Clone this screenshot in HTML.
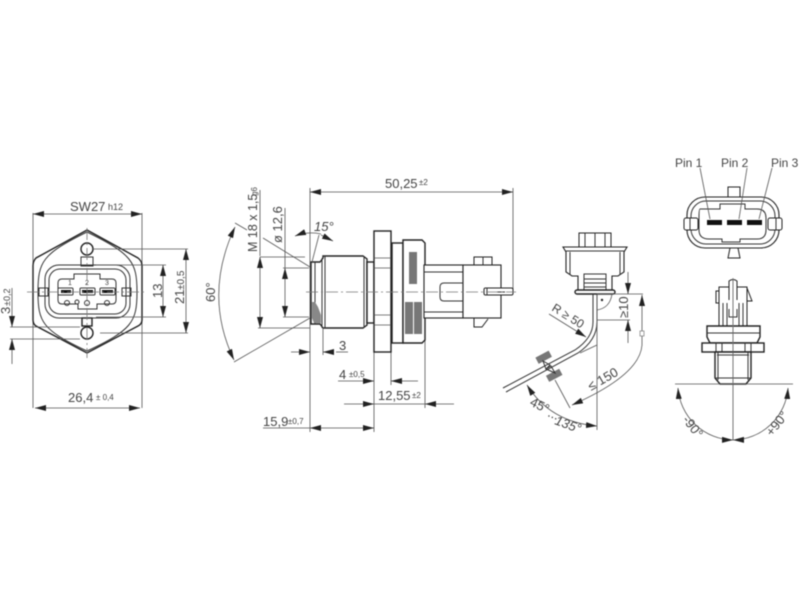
<!DOCTYPE html>
<html><head><meta charset="utf-8"><style>
html,body{margin:0;padding:0;background:#fff}
svg{display:block;filter:blur(.5px)}
text{font-family:"Liberation Sans",sans-serif;fill:#444;font-size:13px}
.s{font-size:8px}
.l{fill:none;stroke:#333;stroke-width:1}
.h{fill:#fff;stroke:#222;stroke-width:1.4}
.t{fill:none;stroke:#555;stroke-width:.8}
.c{fill:none;stroke:#777;stroke-width:.8;stroke-dasharray:12 3 2 3}
</style></head><body>
<svg width="800" height="600" viewBox="0 0 800 600" xmlns="http://www.w3.org/2000/svg">
<defs>
<marker id="a" markerUnits="userSpaceOnUse" markerWidth="11" markerHeight="6" refX="11" refY="3" orient="auto-start-reverse"><path d="M0 0L11 3L0 6z" fill="#222"/></marker>
</defs>
<rect width="800" height="600" fill="#fff"/>

<!-- LEFT VIEW -->
<path class="t" d="M33 213V408M142 213V408"/>
<path class="t" d="M33 214H142" marker-start="url(#a)" marker-end="url(#a)"/>
<path class="t" d="M35 408H140" marker-start="url(#a)" marker-end="url(#a)"/>
<text x="70" y="211">SW27</text><text x="108" y="210" class="s" style="font-size:9px">h12</text>
<text x="68" y="402">26,4</text><text x="96" y="400" class="s">± 0,4</text>
<path class="h" d="M87 230L138 258Q142 261 142 266V320Q142 324 138 326L87 353L36 326Q33 324 33 320V266Q33 261 36 258Z"/>
<path class="l" d="M38 292C38 262 42 254 87 232C132 254 137 262 137 292C137 322 132 330 87 351C42 330 38 322 38 292Z" stroke="#666"/>
<rect class="l" x="45" y="265" width="85" height="53" rx="14"/>
<rect class="l" x="49" y="269" width="77" height="45" rx="11"/>
<path class="l" d="M62 279H74V274H100V279H112Q116 279 116 283V300Q116 304 112 304H97V309H78V304H62Q58 304 58 300V283Q58 279 62 279Z"/>
<circle class="h" cx="87" cy="249" r="6"/><circle class="h" cx="87" cy="333" r="6"/>
<rect class="l" x="81" y="257" width="12" height="9"/><rect class="h" x="82" y="318" width="10" height="8"/>
<rect class="l" x="39" y="288" width="9" height="8"/><rect class="l" x="122" y="288" width="9" height="8"/>
<rect x="58" y="288" width="15" height="7" rx="1" fill="#fff" stroke="#333"/><rect x="80" y="288" width="15" height="7" rx="1" fill="#fff" stroke="#333"/><rect x="100" y="288" width="15" height="7" rx="1" fill="#fff" stroke="#333"/>
<rect x="61" y="290" width="10" height="3" fill="#111"/><rect x="82" y="290" width="11" height="3" fill="#111"/><rect x="102" y="290" width="11" height="3" fill="#111"/>
<circle class="l" cx="67" cy="303" r="2.5"/><circle class="l" cx="77" cy="302" r="2"/><circle class="l" cx="87" cy="303" r="2.5"/><circle class="l" cx="107" cy="303" r="2.5"/>
<path class="c" d="M87 228V358M27 292H147"/>
<text x="68" y="285" class="s" style="font-size:7px">1</text><text x="85" y="285" class="s" style="font-size:7px">2</text><text x="105" y="285" class="s" style="font-size:7px">3</text>
<path class="t" d="M92 249H188M100 333H188M96 265H166M96 317H166M10 327H80M10 339H80"/>
<path class="t" d="M186 249V333" marker-start="url(#a)" marker-end="url(#a)"/>
<path class="t" d="M163 265V317" marker-start="url(#a)" marker-end="url(#a)"/>
<path class="t" d="M12 288V327" marker-end="url(#a)"/><path class="t" d="M12 364V339" marker-end="url(#a)"/>
<text transform="translate(162,298) rotate(-90)">13</text>
<text transform="translate(184,304) rotate(-90)">21</text><text transform="translate(184,290) rotate(-90)" class="s" style="font-size:10px">±0,5</text>
<text transform="translate(10,314) rotate(-90)">3</text><text transform="translate(10,306) rotate(-90)" class="s" style="font-size:9px">±0,2</text>

<!-- MIDDLE VIEW -->
<path class="t" d="M310 188V432M513 188V290M374 352V432M391 352V385M425 340V408"/>
<path class="t" d="M310 192H513" marker-start="url(#a)" marker-end="url(#a)"/>
<text x="385" y="188">50,25</text><text x="419" y="185" class="s">±2</text>
<path class="h" d="M311 262H320L323 258V256H363L367 259V325L363 328H323L320 324H311Z" style="fill:#fff"/>
<path class="l" d="M315 262V324M322 258V328M325 256V328M364 256V328M367 259V325"/>
<path d="M312 302L315 302L318 307L321 315V323H314L312 318Z" fill="#888"/>
<rect class="h" x="367" y="262" width="7" height="61"/>
<rect class="h" x="374" y="231" width="17" height="121"/>
<path class="t" d="M374 258H391M374 268H391M374 315H391M374 325H391"/>
<rect class="h" x="392" y="243" width="11" height="100"/>
<path class="h" d="M403 240H422L425 243V340L422 343H403Z"/>
<rect x="409" y="252" width="8" height="32" fill="#777"/>
<rect x="405" y="302" width="8" height="32" fill="#777"/><rect x="414" y="302" width="8" height="32" fill="#777"/>
<rect class="h" x="424" y="265" width="39" height="53" style="stroke-width:1.1"/>
<path class="l" d="M424 272H463M424 312H463"/>
<path class="h" d="M474 265V257H492V265" style="stroke-width:1"/><path class="l" d="M483 257V265"/>
<path class="h" d="M474 318V327H482L488 319" style="stroke-width:1"/>
<rect class="h" x="463" y="265" width="38" height="53" style="stroke-width:1.1"/>
<path class="l" d="M463 283H444Q440 283 440 287V297Q440 301 444 301H463"/>
<rect class="h" x="484" y="288" width="29" height="7" rx="1.5" style="stroke-width:1"/>
<path class="l" d="M487 288V295M497 292H505"/>
<path class="c" d="M306 292H516" stroke-width=".9"/>
<!-- left dims -->
<path class="t" d="M260 257H305M283 268H309M283 317H309M258 328H310"/>
<path class="t" d="M260 257V328" marker-start="url(#a)" marker-end="url(#a)"/>
<path class="t" d="M285 268V317" marker-start="url(#a)" marker-end="url(#a)"/>
<path class="t" d="M263 238L310 267"/>
<path class="t" d="M260 190V256M285 208V268"/>
<path class="t" d="M235 223L247 230M310 318L234 362"/>
<path class="t" d="M235 227Q203 295 234 360" marker-start="url(#a)" marker-end="url(#a)"/>
<text transform="translate(257,252) rotate(-90)" style="font-size:12.5px">M 18 x 1,5</text>
<text transform="translate(257,196) rotate(-90)" class="s">g6</text>
<text transform="translate(282,243) rotate(-90)">ø 12,6</text>
<text transform="translate(215,302) rotate(-90)" style="font-size:13px">60°</text>
<path class="t" d="M319 235L312 262"/>
<path class="t" d="M295 236Q308 231 321 234" marker-start="url(#a)"/>
<path class="t" d="M333 241L321 235" marker-start="url(#a)"/>
<text x="314" y="231" style="font-style:italic">15°</text>
<path class="t" d="M323 328V355"/>
<path class="t" d="M291 352H310" marker-end="url(#a)"/><path class="t" d="M334 352H323" marker-end="url(#a)"/>
<path class="t" d="M336 352H348"/>
<text x="339" y="350">3</text>
<text x="339" y="379">4</text><text x="349" y="377" class="s">±0,5</text>
<path class="t" d="M338 381H374" marker-end="url(#a)"/><path class="t" d="M418 381H391" marker-end="url(#a)"/>
<path class="t" d="M344 404H374" marker-end="url(#a)"/><path class="t" d="M454 404H425" marker-end="url(#a)"/><path class="t" d="M374 404H425"/>
<text x="378" y="400">12,55</text><text x="412" y="398" class="s">±2</text>
<text x="263" y="426">15,9</text><text x="288" y="424" class="s">±0,7</text>
<path class="t" d="M263 428H310"/>
<path class="t" d="M310 428H374" marker-start="url(#a)" marker-end="url(#a)"/>

<!-- CABLE VIEW -->
<path class="h" d="M579 247V233H611V247" style="stroke-width:1"/><path class="l" d="M585 233V247M595 233V247M605 233V247"/>
<path class="h" d="M563 247H627L624 252V272L618 276H612V290H578V276H572L566 272V252Z" style="stroke-width:1.1"/>
<path class="l" d="M566 251H624M570 252V275M620 252V275"/>
<rect class="l" x="584" y="274" width="22" height="16"/><path class="l" d="M584 279H606M584 283H606M584 287H606"/>
<rect class="h" x="575" y="290" width="40" height="4" rx="2"/>
<path class="l" stroke-width="1.2" d="M593 294V322Q593 338 575 350L503 388"/>
<path class="l" stroke-width="1.2" d="M597 294V322Q597 340 578 353L506 392"/>
<path class="t" d="M597 294V430"/>
<circle cx="602" cy="300" r="1.2" fill="#222"/><path class="t" d="M597 310Q610 308 612 294"/>
<path class="t" d="M597 294H643M597 320H630M597 345L580 353"/>
<path class="t" d="M628 272V294" marker-end="url(#a)"/><path class="t" d="M628 343V320" marker-end="url(#a)"/>
<text transform="translate(628,318) rotate(-90)">≥10</text>
<path class="t" d="M642 295V345Q640 375 572 405" marker-start="url(#a)" marker-end="url(#a)"/>
<rect x="640" y="331" width="4" height="5" fill="#fff" stroke="#777" stroke-width=".7"/>
<path class="t" d="M570 408L555 380"/>
<text transform="translate(591,391) rotate(-30)">≤ 150</text>
<path class="t" d="M549 314L586 337" marker-end="url(#a)"/>
<text transform="translate(551,310) rotate(32)" style="font-size:12px">R ≥ 50</text>
<rect x="536" y="354" width="15" height="7" fill="#777" transform="rotate(-28 543 357)"/>
<rect x="547" y="372" width="15" height="7" fill="#777" transform="rotate(-28 554 376)"/>
<path class="l" d="M543 361L550 365L546 369ZM555 373L551 366L546 369Z"/>
<path class="t" d="M527 385Q550 422 597 426" marker-start="url(#a)" marker-end="url(#a)"/>
<text transform="translate(529,405) rotate(26)">45°</text>
<text transform="translate(547,416) rotate(22)">...</text>
<text transform="translate(554,424) rotate(20)" style="font-style:italic">135°</text>

<!-- PIN VIEW -->
<text x="675" y="167" style="font-size:12px">Pin 1</text><text x="721" y="167" style="font-size:12px">Pin 2</text><text x="771" y="167" style="font-size:12px">Pin 3</text>
<path class="h" d="M728 197V187H740V197" style="stroke-width:1"/>
<path class="h" d="M730 248L728 258H740L738 248" style="stroke-width:1"/>
<rect class="h" x="687" y="197" width="92" height="51" rx="18" style="stroke-width:1.1"/>
<rect class="l" x="691" y="201" width="84" height="43" rx="15"/>
<path class="l" d="M700 209H720V204H745V209H757Q766 209 766 218V230Q766 239 757 239H740V242H722V239H709Q699 239 699 230V218Q699 209 700 209Z"/>
<rect class="h" x="684" y="218" width="14" height="12" rx="2" style="stroke-width:1"/><rect class="h" x="768" y="218" width="14" height="12" rx="2" style="stroke-width:1"/>
<path class="l" d="M690 218V230M776 218V230"/>
<rect x="707" y="220" width="15" height="5" fill="#111"/><rect x="727" y="220" width="15" height="5" fill="#111"/><rect x="747" y="220" width="15" height="5" fill="#111"/>
<path class="t" d="M700 168L710 219M747 168L739 219M772 168L759 219"/>

<!-- BOTTOM VIEW -->
<rect class="h" x="719" y="287" width="28" height="39" style="stroke-width:1"/>
<path class="h" d="M716 291H719V303H716ZM747 288L752 301H747Z" style="stroke-width:1"/>
<path class="l" d="M723 303V326M727 303V326M739 303V326M743 303V326"/>
<path class="h" d="M729 300V281Q733 278 737 281V300" style="stroke-width:1"/>
<path class="l" d="M729 309V317H737V309"/>
<path class="h" d="M707 326H760V337L757 343H710L707 337Z"/>
<path class="l" d="M707 333H760"/>
<rect class="h" x="702" y="343" width="62" height="9"/>
<path class="l" d="M716 343V352M722 343V352M745 343V352M751 343V352"/>
<path class="h" d="M715 352H751V378L746 384H720L715 378Z"/>
<path class="l" d="M717 355H749M718 352V380M748 352V380M716 378H750"/>
<path class="t" d="M675 384H793M733 280V440"/>
<path class="c" d="M733 278V384"/>
<path class="t" d="M678 388A56 56 0 0 0 733 440" marker-start="url(#a)" marker-end="url(#a)"/>
<path class="t" d="M788 388A56 56 0 0 1 733 440" marker-start="url(#a)" marker-end="url(#a)"/>
<text transform="translate(682,420) rotate(52)">-90°</text>
<text transform="translate(772,437) rotate(-52)">+90°</text>
</svg>
</body></html>
